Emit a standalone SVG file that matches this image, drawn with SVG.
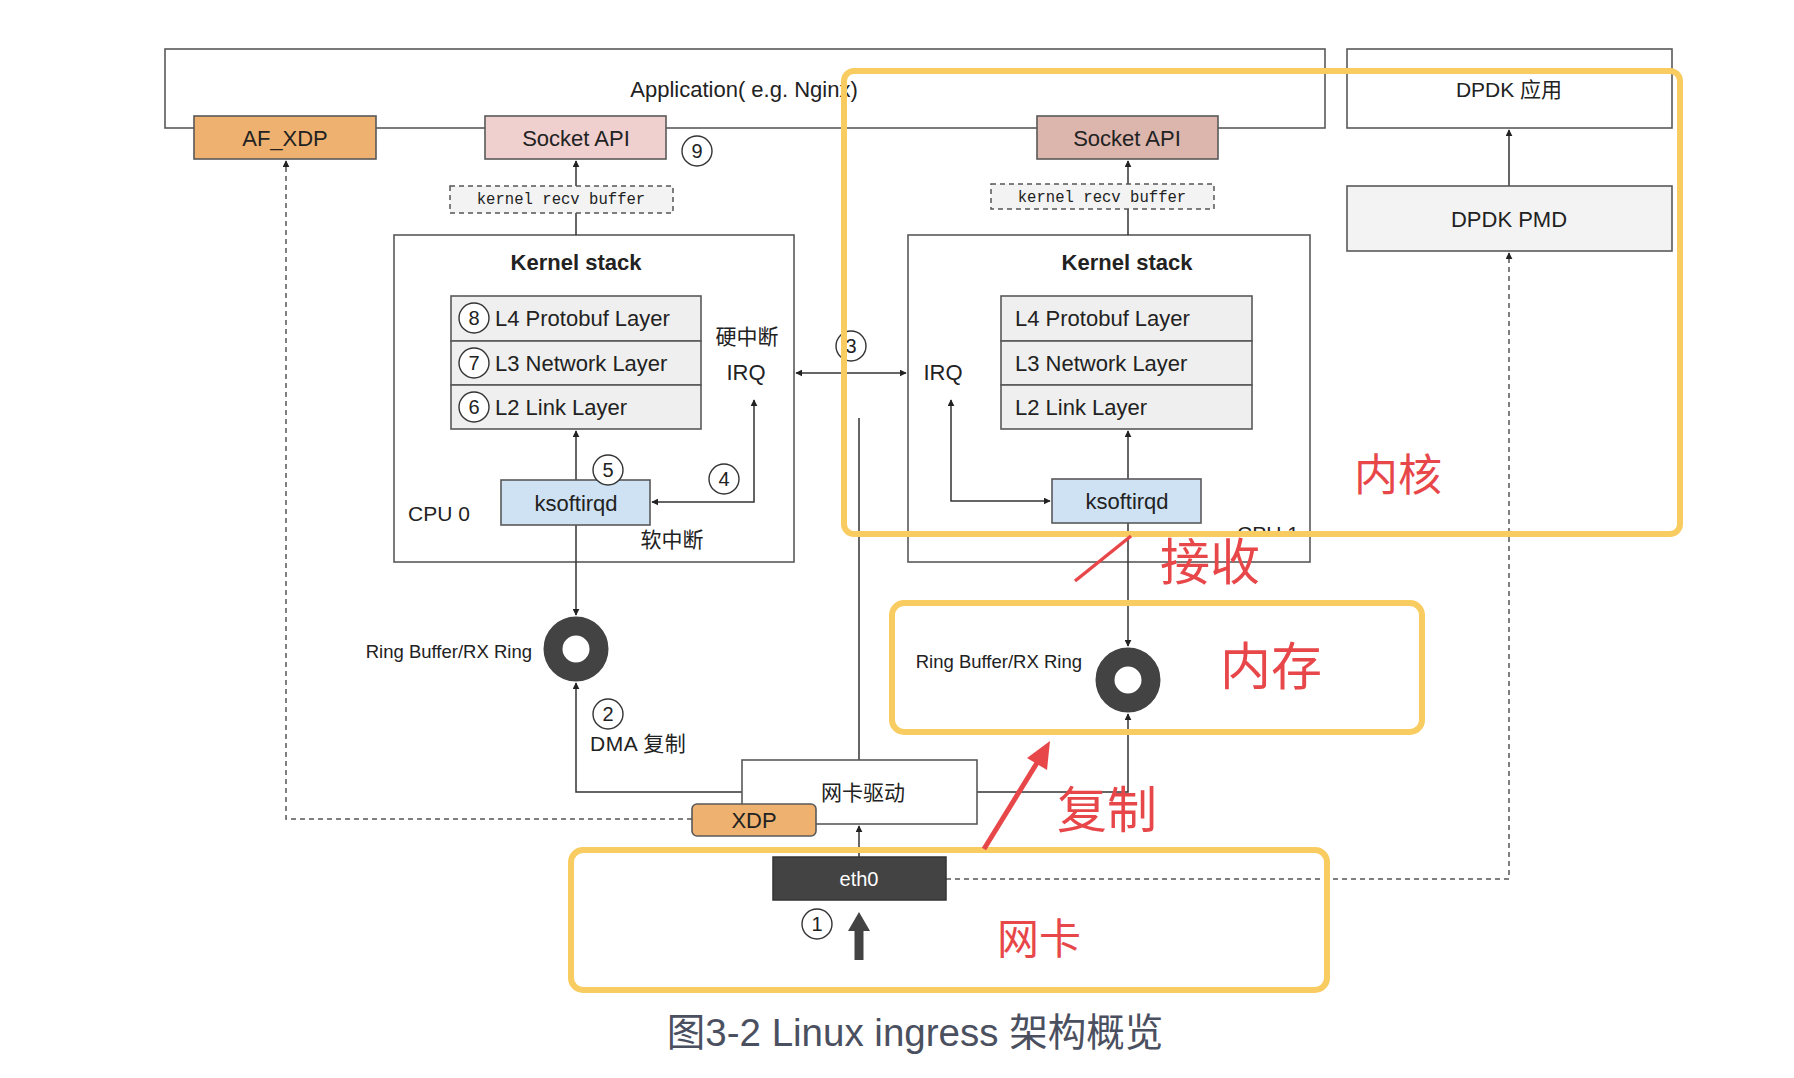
<svg xmlns="http://www.w3.org/2000/svg" width="1794" height="1078" viewBox="0 0 1794 1078">
<style>
.t{font-family:"Liberation Sans","Noto Sans CJK SC",sans-serif;fill:#222;}
.box{stroke:#595959;stroke-width:1.6;}
.ln{fill:none;stroke:#333;stroke-width:1.5;}
.dash{fill:none;stroke:#555;stroke-width:1.5;stroke-dasharray:5 4;}
.num{fill:#fff;stroke:#333;stroke-width:1.4;}
.nt{font-family:"Liberation Sans",sans-serif;font-size:20px;fill:#222;text-anchor:middle;}
.red{font-family:"Noto Sans CJK SC",sans-serif;fill:#e8474a;text-anchor:middle;}
.yel{fill:none;stroke:#f8cc60;stroke-width:6;}
</style>
<defs>
<marker id="ar" viewBox="0 0 10 10" refX="9" refY="5" markerWidth="7" markerHeight="7" markerUnits="userSpaceOnUse" orient="auto-start-reverse">
<path d="M0,0 L10,5 L0,10 z" fill="#222"/>
</marker>
<clipPath id="cpu1clip"><rect x="1200" y="500" width="150" height="31"/></clipPath>
</defs>

<g id="app">
<rect class="box" x="165" y="49" width="1160" height="79" fill="none"/>
<text class="t" x="744" y="97" font-size="22" text-anchor="middle">Application( e.g. Nginx)</text>
</g>
<g id="kstack_left">
<rect class="box" x="394" y="235" width="400" height="327" fill="none"/>
<text class="t" x="576" y="270" font-size="22" font-weight="bold" text-anchor="middle">Kernel stack</text>
<text class="t" x="747" y="344" font-size="21" text-anchor="middle">硬中断</text>
<text class="t" x="746" y="380" font-size="22" text-anchor="middle">IRQ</text>
<text class="t" x="439" y="521" font-size="21" text-anchor="middle">CPU 0</text>
<text class="t" x="672" y="547" font-size="21" text-anchor="middle">软中断</text>
</g>
<g id="kstack_right">
<rect class="box" x="908" y="235" width="402" height="327" fill="none"/>
<text class="t" x="1127" y="270" font-size="22" font-weight="bold" text-anchor="middle">Kernel stack</text>
<text class="t" x="943" y="380" font-size="22" text-anchor="middle">IRQ</text>
<text class="t" x="1268" y="541" font-size="21" text-anchor="middle" clip-path="url(#cpu1clip)">CPU 1</text>
</g>

<g id="connectors">
<path class="dash" d="M692,819 H286 V161" marker-end="url(#ar)"/>
<path class="ln" d="M576,186 V161" marker-end="url(#ar)"/>
<path class="ln" d="M576,235 V213"/>
<path class="ln" d="M576,480 V431" marker-end="url(#ar)"/>
<path class="ln" d="M754,400 V502 H652" marker-start="url(#ar)" marker-end="url(#ar)"/>
<path class="ln" d="M796,373 H906" marker-start="url(#ar)" marker-end="url(#ar)"/>
<path class="ln" d="M859,418 V760"/>
<path class="ln" d="M576,525 V615" marker-end="url(#ar)"/>
<path class="ln" d="M742,792 H576 V683" marker-end="url(#ar)"/>
<path class="ln" d="M859,857 V826" marker-end="url(#ar)"/>
<path class="ln" d="M977,792 H1128 V714" marker-end="url(#ar)"/>
<path class="ln" d="M951,400 V501 H1050" marker-start="url(#ar)" marker-end="url(#ar)"/>
<path class="ln" d="M1128,479 V431" marker-end="url(#ar)"/>
<path class="ln" d="M1128,523 V646" marker-end="url(#ar)"/>
<path class="ln" d="M1128,184 V161" marker-end="url(#ar)"/>
<path class="ln" d="M1128,235 V209"/>
<path class="ln" d="M1509,186 V130" marker-end="url(#ar)"/>
<path class="dash" d="M946,879 H1509 V253" marker-end="url(#ar)"/>
</g>

<g id="af_xdp">
<rect class="box" x="194" y="116" width="182" height="43" fill="#eeb16f"/>
<text class="t" x="285" y="146" font-size="22" text-anchor="middle">AF_XDP</text>
</g>
<g id="socket_left">
<rect class="box" x="485" y="116" width="181" height="43" fill="#f0cfcf"/>
<text class="t" x="576" y="146" font-size="22" text-anchor="middle">Socket API</text>
<circle class="num" cx="697" cy="151" r="15"/><text class="nt" x="697" y="158">9</text>
</g>
<g id="buf_left">
<rect x="450" y="186" width="223" height="27" fill="#f3f3f3" stroke="#555" stroke-width="1.5" stroke-dasharray="5 4"/>
<text x="561" y="204" font-family="Liberation Mono,monospace" font-size="15.6" text-anchor="middle" fill="#222">kernel recv buffer</text>
</g>
<g id="layers_left">
<rect class="box" x="451" y="296" width="250" height="45" fill="#efefef"/>
<rect class="box" x="451" y="341" width="250" height="44" fill="#efefef"/>
<rect class="box" x="451" y="385" width="250" height="44" fill="#efefef"/>
<circle class="num" cx="474" cy="318" r="15"/><text class="nt" x="474" y="325">8</text>
<circle class="num" cx="474" cy="363" r="15"/><text class="nt" x="474" y="370">7</text>
<circle class="num" cx="474" cy="407" r="15"/><text class="nt" x="474" y="414">6</text>
<text class="t" x="495" y="326" font-size="22">L4 Protobuf Layer</text>
<text class="t" x="495" y="371" font-size="22">L3 Network Layer</text>
<text class="t" x="495" y="415" font-size="22">L2 Link Layer</text>
</g>
<g id="ksoft_left">
<rect class="box" x="501" y="480" width="149" height="45" fill="#cfe2f3"/>
<text class="t" x="576" y="511" font-size="22" text-anchor="middle">ksoftirqd</text>
<circle class="num" cx="608" cy="470" r="15"/><text class="nt" x="608" y="477">5</text>
<circle class="num" cx="724" cy="479" r="15"/><text class="nt" x="724" y="486">4</text>
</g>
<g id="irq_num3">
<circle class="num" cx="851" cy="346" r="15"/><text class="nt" x="851" y="353">3</text>
</g>
<g id="ring_left">
<circle cx="576" cy="649" r="23" fill="none" stroke="#434343" stroke-width="19"/>
<text class="t" x="532" y="658" font-size="18.5" text-anchor="end">Ring Buffer/RX Ring</text>
<circle class="num" cx="608" cy="714" r="15"/><text class="nt" x="608" y="721">2</text>
<text class="t" x="590" y="751" font-size="21" letter-spacing="0.5">DMA 复制</text>
</g>
<g id="driver">
<rect class="box" x="742" y="760" width="235" height="64" fill="#fff"/>
<text class="t" x="863" y="800" font-size="21" text-anchor="middle">网卡驱动</text>
</g>
<g id="xdp">
<rect class="box" x="692" y="804" width="124" height="32" rx="5" fill="#eeb16f"/>
<text class="t" x="754" y="828" font-size="22" text-anchor="middle">XDP</text>
</g>
<g id="eth0">
<rect x="773" y="857" width="173" height="43" fill="#434343" stroke="#333" stroke-width="1.5"/>
<text x="859" y="886" font-family="Liberation Sans,sans-serif" font-size="20" fill="#fff" text-anchor="middle">eth0</text>
<circle class="num" cx="817" cy="924" r="15"/><text class="nt" x="817" y="931">1</text>
<polygon points="859,912 870,931 863.5,931 863.5,960 854.5,960 854.5,931 848,931" fill="#434343"/>
</g>

<g id="socket_right">
<rect class="box" x="1037" y="116" width="181" height="43" fill="#dcb5ad"/>
<text class="t" x="1127" y="146" font-size="22" text-anchor="middle">Socket API</text>
</g>
<g id="buf_right">
<rect x="991" y="184" width="223" height="25" fill="#f3f3f3" stroke="#555" stroke-width="1.5" stroke-dasharray="5 4"/>
<text x="1102" y="202" font-family="Liberation Mono,monospace" font-size="15.6" text-anchor="middle" fill="#222">kernel recv buffer</text>
</g>
<g id="layers_right">
<rect class="box" x="1001" y="296" width="251" height="45" fill="#efefef"/>
<rect class="box" x="1001" y="341" width="251" height="44" fill="#efefef"/>
<rect class="box" x="1001" y="385" width="251" height="44" fill="#efefef"/>
<text class="t" x="1015" y="326" font-size="22">L4 Protobuf Layer</text>
<text class="t" x="1015" y="371" font-size="22">L3 Network Layer</text>
<text class="t" x="1015" y="415" font-size="22">L2 Link Layer</text>
</g>
<g id="ksoft_right">
<rect class="box" x="1052" y="479" width="149" height="44" fill="#cfe2f3"/>
<text class="t" x="1127" y="509" font-size="22" text-anchor="middle">ksoftirqd</text>
</g>
<g id="ring_right">
<circle cx="1128" cy="680" r="23" fill="none" stroke="#434343" stroke-width="19"/>
<text class="t" x="1082" y="668" font-size="18.5" text-anchor="end">Ring Buffer/RX Ring</text>
</g>
<g id="dpdk_app">
<rect class="box" x="1347" y="49" width="325" height="79" fill="#fff"/>
<text class="t" x="1509" y="97" font-size="21" text-anchor="middle">DPDK 应用</text>
</g>
<g id="dpdk_pmd">
<rect class="box" x="1347" y="186" width="325" height="65" fill="#f3f3f3"/>
<text class="t" x="1509" y="227" font-size="22" text-anchor="middle">DPDK PMD</text>
</g>

<g id="annotations">
<rect class="yel" x="844" y="71" width="836" height="463" rx="10"/>
<rect class="yel" x="892" y="603" width="530" height="129" rx="12"/>
<rect class="yel" x="571" y="850" width="756" height="140" rx="12"/>
<text class="red" x="1398" y="491" font-size="44">内核</text>
<text class="red" x="1210" y="580" font-size="50">接收</text>
<line x1="1075" y1="581" x2="1131" y2="536" stroke="#e8474a" stroke-width="3.5"/>
<text class="red" x="1271" y="685" font-size="51">内存</text>
<text class="red" x="1107" y="828" font-size="50">复制</text>
<line x1="984" y1="849" x2="1040" y2="758" stroke="#e8474a" stroke-width="5"/>
<polygon points="1050,741 1047,770 1027,758" fill="#e8474a"/>
<text class="red" x="1039" y="954" font-size="42">网卡</text>
</g>
<g id="caption">
<text x="915" y="1046" font-family="Liberation Sans,Noto Sans CJK SC,sans-serif" font-size="38.5" fill="#4b5060" text-anchor="middle">图3-2 Linux ingress 架构概览</text>
</g>
</svg>
